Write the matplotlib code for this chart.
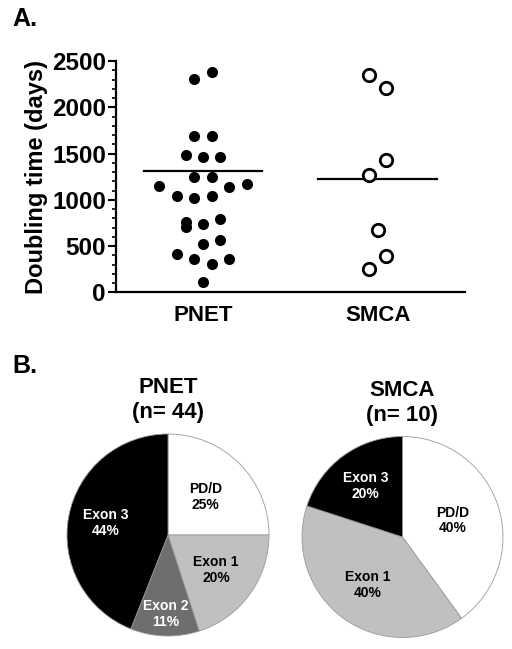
import numpy as np
import matplotlib
matplotlib.use("Agg")
import matplotlib.pyplot as plt
from matplotlib.ticker import MultipleLocator

plt.rcParams['font.family'] = ['Liberation Sans', 'DejaVu Sans']
plt.rcParams['font.weight'] = 'bold'

# ---------------- Data ----------------
groups = ["PNET", "SMCA"]
pnet_days = [2377, 2308, 1691, 1684, 1483, 1457, 1465, 1244, 1244, 1154, 1172, 1143,
             1042, 1020, 1042, 764, 703, 739, 793, 519, 566, 411, 364, 364, 310, 111]
pnet_jitter = [1, -1, -1, 1, -2, 0, 2, -1, 1, -5, 5, 3,
               -3, -1, 1, -2, -2, 0, 2, 0, 2, -3, -1, 3, 1, 0]
smca_days = [2348, 2211, 1429, 1273, 678, 393, 249]
smca_jitter = [-1, 1, 1, -1, 0, 1, -1]
line_values = [1313, 1226]

pie_labels_pnet = ["PD/D", "Exon 1", "Exon 2", "Exon 3"]
pie_pct_pnet = [25, 20, 11, 44]
pie_labels_smca = ["PD/D", "Exon 1", "Exon 3"]
pie_pct_smca = [40, 40, 20]
n_pnet, n_smca = 44, 10

# ---------------- Figure ----------------
W, H = 512, 649
fig = plt.figure(figsize=(W / 100, H / 100), dpi=100)

def px_axes(x0, y0, x1, y1):
    return fig.add_axes([x0 / W, 1 - y1 / H, (x1 - x0) / W, (y1 - y0) / H])

# Panel A
ax = px_axes(115.7, 61, 465, 292.3)
jit = 0.05
ax.scatter(np.array(pnet_jitter) * jit + 0, pnet_days, s=64, c='black',
           edgecolors='black', linewidths=0, zorder=3, clip_on=False)
ax.scatter(np.array(smca_jitter) * jit + 1, smca_days, s=80, facecolors='white',
           edgecolors='black', linewidths=2, zorder=3, clip_on=False)
for i, v in enumerate(line_values):
    ax.plot([i - 0.34, i + 0.34], [v, v], color='black', lw=1.6, zorder=2)

ax.set_xlim(-0.5, 1.5)
ax.set_ylim(0, 2500)
ax.set_xticks([0, 1])
ax.set_xticklabels(groups, fontsize=16, fontweight='bold')
ax.yaxis.set_major_locator(MultipleLocator(500))
ax.yaxis.set_minor_locator(MultipleLocator(100))
ax.tick_params(axis='y', which='major', length=6, width=1.5, pad=1, labelsize=17.5)
ax.tick_params(axis='y', which='minor', length=3, width=1.2)
ax.tick_params(axis='x', length=0, pad=9)
for lab in ax.get_yticklabels():
    lab.set_fontweight('bold')
ax.spines['top'].set_visible(False)
ax.spines['right'].set_visible(False)
ax.spines['left'].set_linewidth(1.6)
ax.spines['bottom'].set_linewidth(1.6)
ax.set_ylabel("Doubling time (days)", fontsize=17, fontweight='bold', labelpad=3)

fig.text(12 / W, 1 - 19 / H, "A.", fontsize=18, fontweight='bold', va='center', ha='left')
fig.text(12 / W, 1 - 366 / H, "B.", fontsize=18, fontweight='bold', va='center', ha='left')

# Panel B pies
def draw_pie(cx, cy, r, pcts, labels, colors, textcolors, dists, title):
    pax = px_axes(cx - r, cy - r, cx + r, cy + r)
    wedges, _ = pax.pie(pcts, colors=colors, startangle=90, counterclock=False,
                        wedgeprops=dict(edgecolor='#9a9a9a', linewidth=0.6))
    pax.set_xlim(-1, 1)
    pax.set_ylim(-1, 1)
    for w, lab, p, tc, d in zip(wedges, labels, pcts, textcolors, dists):
        ang = np.deg2rad((w.theta1 + w.theta2) / 2)
        pax.text(d * np.cos(ang), d * np.sin(ang), f"{lab}\n{p}%", ha='center',
                 va='center', fontsize=10, fontweight='bold', color=tc, linespacing=1.15)
    fig.text(cx / W, 1 - (cy - r - 34) / H, title, ha='center', va='center',
             fontsize=16, fontweight='bold', linespacing=1.25)

draw_pie(168, 535, 101, pie_pct_pnet, pie_labels_pnet,
         ['white', '#c0c0c0', '#6e6e6e', 'black'],
         ['black', 'black', 'white', 'white'],
         [0.53, 0.59, 0.78, 0.63], f"PNET\n(n= {n_pnet})")
draw_pie(402.5, 537, 100.5, pie_pct_smca, pie_labels_smca,
         ['white', '#c0c0c0', 'black'],
         ['black', 'black', 'white'],
         [0.53, 0.59, 0.63], f"SMCA\n(n= {n_smca})")

fig.savefig("out.png", dpi=100)
